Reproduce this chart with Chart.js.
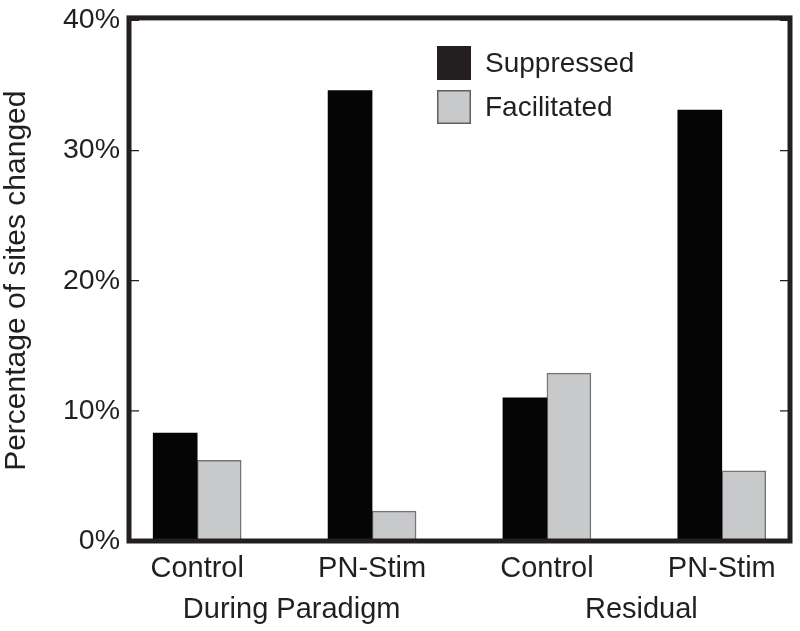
<!DOCTYPE html>
<html>
<head>
<meta charset="utf-8">
<script src="https://cdn.jsdelivr.net/npm/chart.js@4"></script>
<style>
  html, body { margin: 0; padding: 0; background: #fff; }
  #wrap { width: 800px; height: 631px; }
</style>
</head>
<body>
<div id="wrap"><canvas id="sites-chart"></canvas></div>
<script>
// values (percent of sites)
const conditions = ['Control', 'PN-Stim', 'Control', 'PN-Stim'];
const groups = ['During Paradigm', 'Residual'];
const suppressed = [8.3, 34.6, 11.0, 33.1];
const facilitated = [6.2, 2.3, 12.9, 5.4];
const yTicks = [0, 10, 20, 30, 40];

const ink = '#231f20';
const fontFamily = '"Liberation Sans", Arial, Helvetica, sans-serif';

// x positions of the four conditions, group labels sit roughly halfway between pairs
const positions = conditions.map((_, i) => i);
const groupPositions = groups.map((_, g) => g * 2 + 0.54);

function toPoints(values) {
    return values.map((v, i) => ({ x: positions[i], y: v }));
}

// thick box round the plot plus inward tick marks on both sides
const frame = {
    id: 'frame',
    afterDatasetsDraw(chart) {
        const { ctx, chartArea: a, scales: { y } } = chart;
        ctx.save();
        ctx.strokeStyle = ink;
        ctx.lineWidth = 1.3;
        yTicks.forEach(t => {
            const py = y.getPixelForValue(t);
            ctx.beginPath();
            ctx.moveTo(a.left, py);
            ctx.lineTo(a.left + 10, py);
            ctx.moveTo(a.right, py);
            ctx.lineTo(a.right - 10, py);
            ctx.stroke();
        });
        ctx.lineWidth = 5;
        ctx.strokeRect(a.left, a.top - 2.5, a.right - a.left, a.bottom - a.top + 2.5);
        ctx.restore();
    }
};

// legend drawn inside the plot, upper middle
const insideLegend = {
    id: 'insideLegend',
    afterDraw(chart) {
        const { ctx } = chart;
        const x = 437, size = 34;
        ctx.save();
        ctx.font = '28px ' + fontFamily;
        ctx.textBaseline = 'middle';
        chart.data.datasets.forEach((ds, i) => {
            const top = 46 + i * 44;
            ctx.fillStyle = i === 0 ? ink : ds.backgroundColor;
            ctx.fillRect(x, top, size, size);
            if (i > 0) {
                ctx.strokeStyle = '#5f5f5f';
                ctx.lineWidth = 1.5;
                ctx.strokeRect(x + 0.75, top + 0.75, size - 1.5, size - 1.5);
            }
            ctx.fillStyle = ink;
            ctx.fillText(ds.label, x + 48, top + size / 2 + 1);
        });
        ctx.restore();
    }
};

const ctx = document.getElementById('sites-chart').getContext('2d');
new Chart(ctx, {
    type: 'bar',
    data: {
        datasets: [
            {
                label: 'Suppressed',
                data: toPoints(suppressed),
                backgroundColor: '#050505',
                borderWidth: 0
            },
            {
                label: 'Facilitated',
                data: toPoints(facilitated),
                backgroundColor: '#c8c9cb',
                borderColor: '#757575',
                borderWidth: 1.5
            }
        ]
    },
    options: {
        responsive: true,
        maintainAspectRatio: false,
        animation: false,
        barThickness: 44,
        layout: { padding: { top: 20, right: 10, left: 0, bottom: 0 } },
        plugins: {
            legend: { display: false },
            tooltip: { enabled: false }
        },
        scales: {
            x: {
                type: 'linear',
                offset: false,
                min: -0.39,
                max: 3.39,
                grid: { display: false, drawTicks: false },
                border: { display: false },
                afterBuildTicks: (scale) => {
                    const vals = positions.concat(groupPositions).sort((a, b) => a - b);
                    scale.ticks = vals.map(v => ({ value: v }));
                },
                afterFit: (scale) => { scale.height = 90; },
                ticks: {
                    autoSkip: false,
                    maxRotation: 0,
                    minRotation: 0,
                    padding: 8,
                    color: ink,
                    font: { family: fontFamily, size: 29, lineHeight: 1.4 },
                    callback: (value) => {
                        const gi = groupPositions.indexOf(value);
                        if (gi >= 0) return ['', groups[gi]];
                        return conditions[value];
                    }
                }
            },
            y: {
                min: 0,
                max: 40,
                grid: { display: false, drawTicks: false },
                border: { display: false },
                afterFit: (scale) => { scale.width = 129; },
                ticks: {
                    stepSize: 10,
                    padding: 9,
                    color: ink,
                    font: { family: fontFamily, size: 28.5, lineHeight: 0.8 },
                    callback: (v) => v + '%'
                },
                title: {
                    display: true,
                    text: 'Percentage of sites changed',
                    color: ink,
                    padding: { top: 2, bottom: 0 },
                    font: { family: fontFamily, size: 30, lineHeight: 1 }
                }
            }
        }
    },
    plugins: [frame, insideLegend]
});
</script>
</body>
</html>
